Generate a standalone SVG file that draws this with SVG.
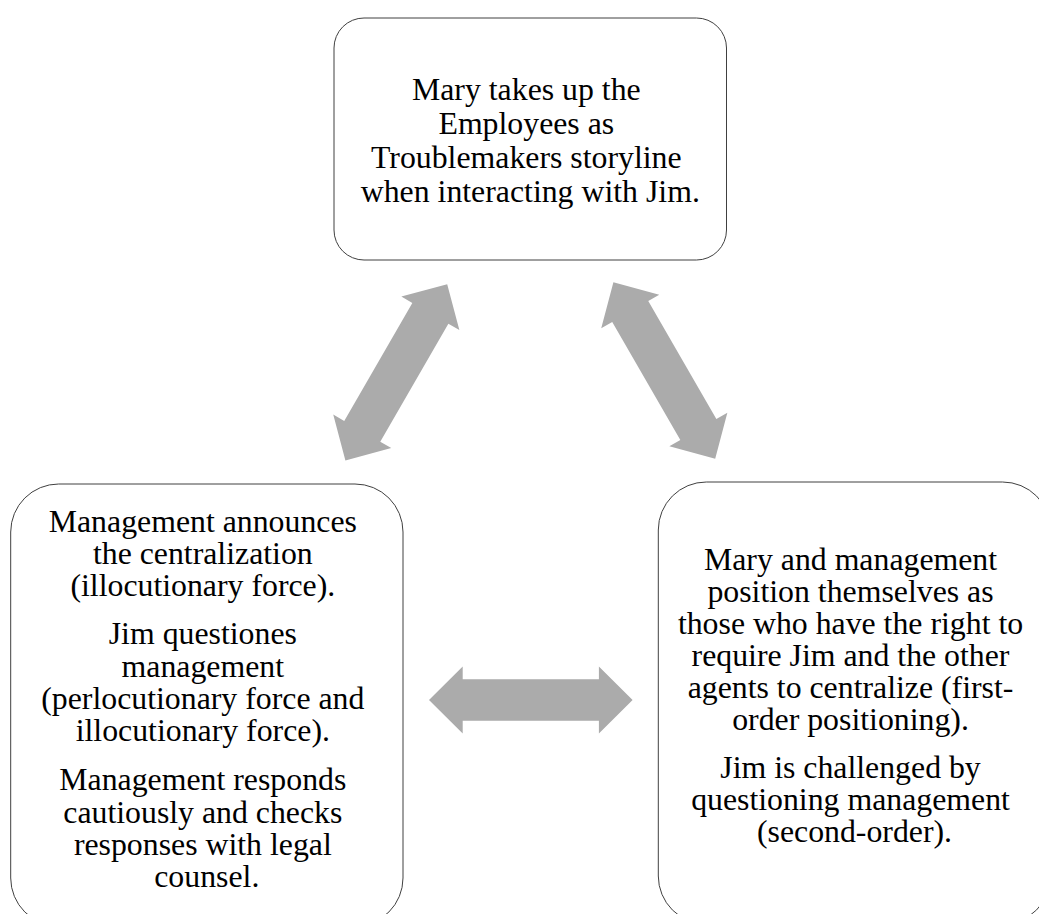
<svg xmlns="http://www.w3.org/2000/svg" xmlns:xlink="http://www.w3.org/1999/xlink" width="1039" height="914" viewBox="0 0 1039 914">
  <style>
    .box { fill: #ffffff; stroke: #404040; stroke-width: 1; }
    .lbl { font-family: "Liberation Serif", "Times New Roman", serif; font-size: 31.8px; fill: #000000; text-anchor: middle; }
    .arrow { fill: #ababab; stroke: none; }
  </style>
  <defs>
    <!-- double-headed block arrow, centred on the origin, pointing along x -->
    <path id="dblArrow" d="M -101.8 0 L -68.1 -33.5 L -68.1 -20.8 L 68.1 -20.8 L 68.1 -33.5 L 101.8 0 L 68.1 33.5 L 68.1 20.8 L -68.1 20.8 L -68.1 33.5 Z"/>
  </defs>
  <rect width="1039" height="914" fill="#ffffff"/>

  <g id="connectors" class="arrow">
    <use xlink:href="#dblArrow" transform="translate(396.3 372.3) rotate(-60)"/>
    <use xlink:href="#dblArrow" transform="translate(664.3 370.5) rotate(60)"/>
    <use xlink:href="#dblArrow" transform="translate(530.8 700)"/>
  </g>

  <g id="node-storyline">
    <rect class="box" x="334" y="18" width="392.5" height="242" rx="30" ry="30"/>
    <text class="lbl">
      <tspan x="530.3" y="100">Mary takes up the</tspan>
      <tspan x="530.3" y="133.9">Employees as</tspan>
      <tspan x="530.3" y="167.8">Troublemakers storyline</tspan>
      <tspan x="530.3" y="201.7">when interacting with Jim.</tspan>
    </text>
  </g>

  <g id="node-speech-acts">
    <rect class="box" x="10.7" y="484" width="392.3" height="442" rx="48" ry="48"/>
    <text class="lbl">
      <tspan x="206.8" y="531.5">Management announces</tspan>
      <tspan x="206.8" y="563.8">the centralization</tspan>
      <tspan x="206.8" y="596.1">(illocutionary force).</tspan>
      <tspan x="206.8" y="644.4">Jim questiones</tspan>
      <tspan x="206.8" y="676.7">management</tspan>
      <tspan x="206.8" y="709">(perlocutionary force and</tspan>
      <tspan x="206.8" y="741.3">illocutionary force).</tspan>
      <tspan x="206.8" y="790.4">Management responds</tspan>
      <tspan x="206.8" y="822.7">cautiously and checks</tspan>
      <tspan x="206.8" y="855">responses with legal</tspan>
      <tspan x="206.8" y="887.3">counsel.</tspan>
    </text>
  </g>

  <g id="node-positioning">
    <rect class="box" x="658.3" y="482" width="392.3" height="442" rx="48" ry="48"/>
    <text class="lbl">
      <tspan x="854.5" y="570">Mary and management</tspan>
      <tspan x="854.5" y="602">position themselves as</tspan>
      <tspan x="854.5" y="634">those who have the right to</tspan>
      <tspan x="854.5" y="666">require Jim and the other</tspan>
      <tspan x="854.5" y="698">agents to centralize (first-</tspan>
      <tspan x="854.5" y="730">order positioning).</tspan>
      <tspan x="854.5" y="778.3">Jim is challenged by</tspan>
      <tspan x="854.5" y="810.3">questioning management</tspan>
      <tspan x="854.5" y="842.3">(second-order).</tspan>
    </text>
  </g>
</svg>
